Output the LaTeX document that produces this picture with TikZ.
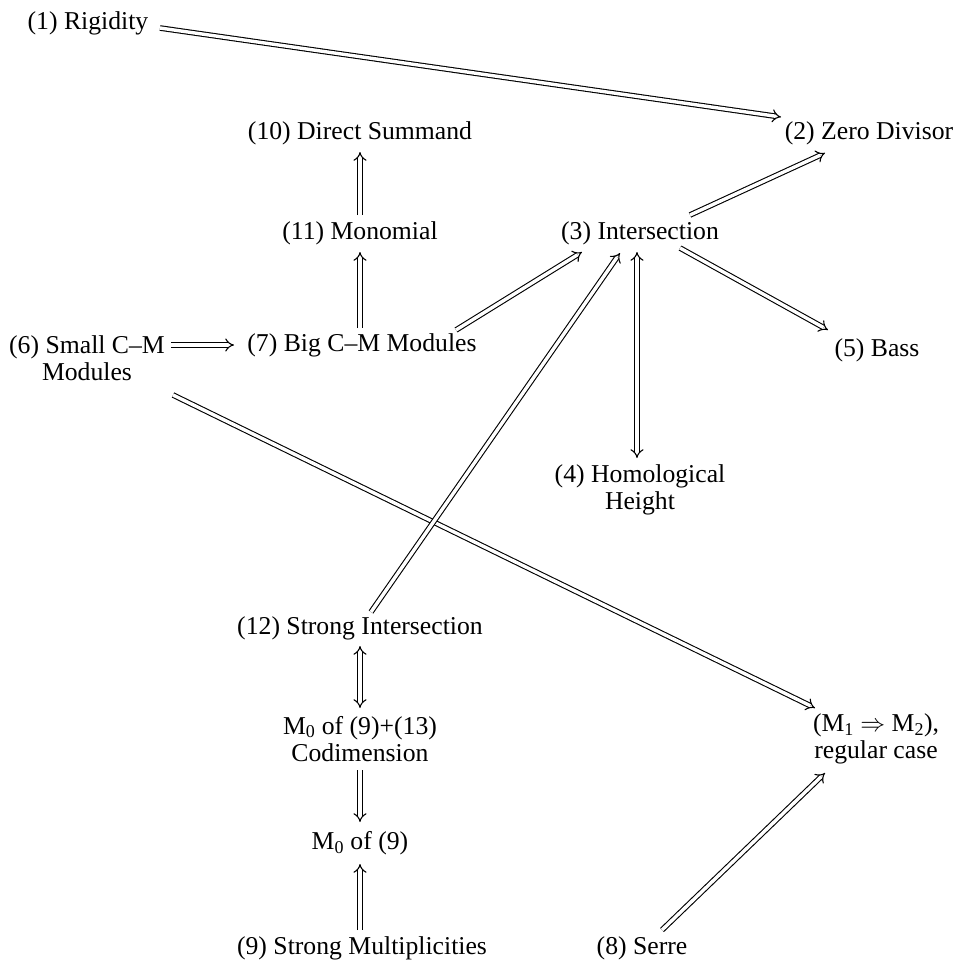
\documentclass[tikz,border=0pt]{standalone}
\usepackage{fontspec}
\setmainfont{Liberation Serif}
\usetikzlibrary{arrows.meta,calc}
\newcommand\mainsz{\fontsize{25.7pt}{27.5pt}\selectfont}
\tikzset{
  lbl/.style={inner sep=0pt, align=center, font=\mainsz},
  imp/.style={double, double distance=3.4pt, line width=1.1pt, -{Implies}},
  bimp/.style={double, double distance=3.4pt, line width=1.1pt, {Implies}-{Implies}}
}
\begin{document}
\begin{tikzpicture}[x=1pt,y=-1pt]
\useasboundingbox (0,0) rectangle (961,964);
\node[lbl] (r1) at (88,23) {(1) Rigidity};
\node[lbl] (z2) at (869,133) {(2) Zero Divisor};
\node[lbl] (d10) at (360,133) {(10) Direct Summand};
\node[lbl] (m11) at (360,233) {(11) Monomial};
\node[lbl] (i3) at (640,233) {(3) Intersection};
\node[lbl] (s6) at (87,358) {(6) Small C--M\\Modules};
\node[lbl] (b7) at (362,345) {(7) Big C--M Modules};
\node[lbl] (b5) at (877,350) {(5) Bass};
\node[lbl] (h4) at (640,490) {(4) Homological\\Height};
\node[lbl] (s12) at (360,628) {(12) Strong Intersection};
\node[lbl] (c13) at (360,739) {M\textsubscript{0} of (9)+(13)\\Codimension};
\node[lbl] (m1) at (876,739) {(M\textsubscript{1} $\Rightarrow$ M\textsubscript{2}),\\regular case};
\node[lbl] (m0) at (360,843) {M\textsubscript{0} of (9)};
\node[lbl] (sm9) at (362,948) {(9) Strong Multiplicities};
\node[lbl] (se8) at (642,948) {(8) Serre};

\draw[imp] ($(r1)+(72,5)$) -- ($(z2)+(-88,-16)$);
\draw[imp] ($(i3)+(50,-18)$) -- ($(z2)+(-44,20)$);
\draw[imp] ($(i3)+(40,15)$) -- ($(b5)+(-49,-20)$);
\draw[imp] ($(m11)+(0,-18)$) -- ($(d10)+(0,19)$);
\draw[imp] ($(b7)+(-2,-17)$) -- ($(m11)+(0,19)$);
\draw[imp] ($(b7)+(94,-15)$) -- ($(i3)+(-58,19)$);
\draw[imp] ($(s6)+(84,-13)$) -- ($(b7)+(-128,0)$);
\draw[imp] ($(s6)+(86,37)$) -- ($(m1)+(-61,-31)$);
\draw[imp] ($(s12)+(11,-16)$) -- ($(i3)+(-20,20)$);
\draw[bimp] ($(i3)+(-3,19)$) -- ($(h4)+(-3,-32)$);
\draw[bimp] ($(s12)+(0,18)$) -- ($(c13)+(0,-31)$);
\draw[imp] ($(c13)+(0,31)$) -- ($(m0)+(0,-21)$);
\draw[imp] ($(sm9)+(-2,-18)$) -- ($(m0)+(0,21)$);
\draw[imp] ($(se8)+(20,-18)$) -- ($(m1)+(-51,34)$);
\end{tikzpicture}
\end{document}
